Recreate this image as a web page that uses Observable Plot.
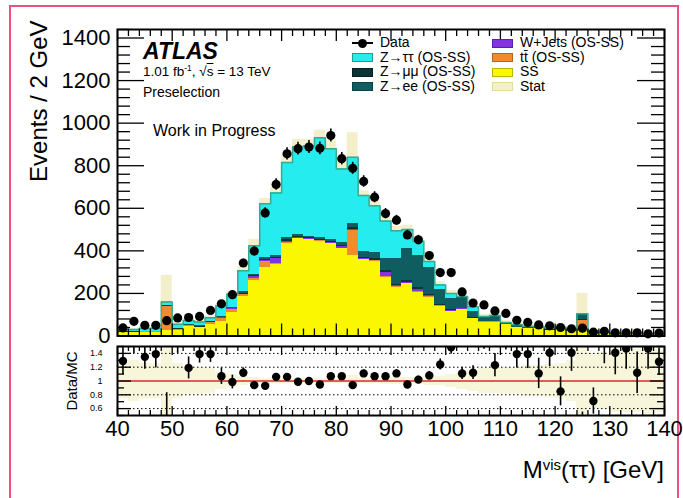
<!DOCTYPE html>
<html>
<head>
<meta charset="utf-8">
<script src="https://cdn.jsdelivr.net/npm/d3@7"></script>
<script src="https://cdn.jsdelivr.net/npm/@observablehq/plot@0.6"></script>
<style>
  body { margin: 0; background: #fff; }
  #wrap { position: relative; width: 683px; height: 498px; overflow: hidden; background: #fff;
          font-family: 'Liberation Sans', Arial, Helvetica, sans-serif; color: #000; }
  #border { position: absolute; left: 9px; top: 5px; width: 670px; height: 530px;
            border: 2px solid #f0507f; box-sizing: border-box; }
  .abs { position: absolute; white-space: nowrap; line-height: 1; }
  .plotbox { position: absolute; left: 0; width: 683px; }
  sup { font-size: 62%; vertical-align: 0; position: relative; top: -0.55em; line-height: 0; }
  .sw { position: absolute; width: 21px; height: 9px; box-sizing: border-box; }
</style>
</head>
<body>
<div id="wrap">
  <div id="border"></div>
  <div id="ratio" class="plotbox" style="top:340px"></div>
  <div id="main" class="plotbox" style="top:0"></div>
  <div class="abs" style="left:143px;top:40px;font-size:23px;font-weight:bold;font-style:italic;">ATLAS</div>
  <div class="abs" style="left:143px;top:65px;font-size:13.5px;">1.01 fb<sup>-1</sup>, √<span style="text-decoration:overline">s</span> = 13 TeV</div>
  <div class="abs" style="left:143px;top:85px;font-size:14px;">Preselection</div>
  <div class="abs" style="left:153px;top:123px;font-size:16px;">Work in Progress</div>
  <div id="legend"></div>
  <div class="abs" style="right:19px;top:458px;font-size:24px;">M<sup>vis</sup>(ττ) [GeV]</div>
</div>
<script>
// ---------------- data ----------------
const binLow = d3.range(40, 140, 2);   // 2 GeV bins from 40 to 140 GeV

const dataCounts = [38,69,50,50,72,85,87,92,120,151,194,343,399,578,712,856,880,888,882,942,
                    833,788,726,652,575,544,475,452,378,298,298,207,155,146,118,106,74,64,52,48,
                    40,34,37,18,22,15,15,15,10,14];
const dataErr    = [6,8,7,7,8,9,9,10,11,12,14,18,20,24,27,29,30,30,30,31,
                    29,28,27,26,24,23,22,21,19,17,17,14,12,12,11,10,9,8,7,7,
                    6,6,6,4,5,4,4,4,3,4];

const ssVals     = [18,18,18,18,25,28,46,38,52,70,112,185,262,320,335,435,457,452,446,434,
                    410,379,358,352,277,230,245,206,183,140,115,125,80,65,65,54,40,34,34,28,
                    30,22,22,18,12,10,9,11,7,9];
const ttbarVals  = [0,0,2,1,112,2,2,3,10,10,12,8,10,30,4,3,2,2,2,2,
                    2,118,2,2,2,2,2,2,2,1,1,1,1,1,1,0,0,0,0,0,
                    0,0,51,0,0,0,0,0,0,0];
const wjetsVals  = [0,0,0,0,0,0,0,0,2,5,4,4,6,4,24,8,4,2,2,3,
                    8,3,3,3,20,3,3,10,3,3,2,1,1,1,1,0,0,0,0,0,
                    0,0,0,0,0,0,0,0,0,0];
const zmumuVals  = [2,2,2,2,4,3,3,3,3,3,3,4,4,5,5,6,6,5,5,5,
                    5,8,8,8,8,8,10,8,7,5,5,4,3,3,3,1,1,1,1,1,
                    1,1,4,1,1,0,0,0,0,0];
const zeeVals    = [1,1,1,1,4,3,3,3,3,4,5,6,7,8,8,10,8,8,8,10,
                    12,22,25,25,55,120,150,150,125,70,52,50,28,20,22,6,8,6,5,4,
                    5,3,25,3,1,1,1,1,0,1];
const ztautauVals= [8,9,14,14,15,19,19,19,16,49,61,99,135,254,296,353,412,424,469,426,
                    348,310,264,222,178,132,90,69,30,21,25,5,25,2,4,3,5,5,5,3,
                    6,2,3,2,1,1,1,1,1,1];
const mcStat     = [5,5,6,6,125,8,8,8,10,12,14,18,30,25,25,35,35,30,35,40,
                    30,115,22,22,20,20,20,20,18,15,14,14,12,10,10,8,8,7,7,6,
                    6,6,95,5,4,4,4,4,4,4];

const ratioVals  = [1.29,1.8,1.35,1.39,0.45,1.6,1.19,1.39,1.39,1.07,0.985,1.12,0.94,0.93,1.06,1.06,0.99,1.0,0.95,1.07,
                    1.07,0.94,1.11,1.07,1.07,1.11,0.95,1.02,1.08,1.24,1.49,1.11,1.12,1.6,1.23,1.65,1.39,1.39,1.11,1.41,
                    0.85,1.41,0.35,0.71,1.6,1.41,1.47,1.12,1.47,1.28];
const ratioErr   = [0.2,0.4,0.18,0.2,0.38,0.2,0.16,0.13,0.12,0.12,0.1,0.07,0.05,0.04,0.04,0.04,0.035,0.035,0.035,0.035,
                    0.04,0.035,0.04,0.045,0.05,0.05,0.05,0.05,0.06,0.08,0.1,0.09,0.1,0.14,0.17,0.2,0.2,0.21,0.22,0.2,
                    0.21,0.27,0.2,0.19,0.35,0.32,0.3,0.3,0.3,0.2];
const ratioStat  = [0.25,0.3,0.25,0.25,0.9,0.25,0.2,0.2,0.18,0.12,0.1,0.07,0.05,0.04,0.04,0.035,0.035,0.035,0.035,0.035,
                    0.04,0.08,0.04,0.04,0.05,0.05,0.05,0.05,0.06,0.07,0.1,0.12,0.15,0.18,0.18,0.2,0.2,0.22,0.22,0.24,
                    0.26,0.3,0.9,0.4,0.42,0.45,0.45,0.45,0.5,0.45];

const yTicksMain  = [0,200,400,600,800,1000,1200,1400];
const xTicks      = [40,50,60,70,80,90,100,110,120,130,140];
const yTicksRatio = [0.6,0.8,1,1.2,1.4];

// ---------------- styles ----------------
const COLORS = {
  SS: "#fbf700", ttbar: "#f08c30", wjets: "#8234e0",
  zmumu: "#0b3535", zee: "#0f5d61", ztautau: "#25ecef",
  stat: "#f3efcb", ratioStat: "#f8f6da"
};
const font = "'Liberation Sans', Arial, Helvetica, sans-serif";

const procs = [
  {key: "SS",      label: "SS",             vals: ssVals},
  {key: "ttbar",   label: "tt\u0304 (OS-SS)",  vals: ttbarVals},
  {key: "wjets",   label: "W+Jets (OS-SS)", vals: wjetsVals},
  {key: "zmumu",   label: "Z→μμ (OS-SS)",   vals: zmumuVals},
  {key: "zee",     label: "Z→ee (OS-SS)",   vals: zeeVals},
  {key: "ztautau", label: "Z→ττ (OS-SS)",   vals: ztautauVals}
];

// table of stacked pieces
const stackRows = [];
const total = binLow.map((lo, i) => {
  let acc = 0;
  for (const p of procs) {
    stackRows.push({lo, hi: lo + 2, y1: acc, y2: acc + p.vals[i], color: COLORS[p.key]});
    acc += p.vals[i];
  }
  return acc;
});
const bins = binLow.map((lo, i) => ({
  lo, hi: lo + 2, mid: lo + 1,
  data: dataCounts[i], err: dataErr[i], total: total[i], stat: mcStat[i],
  ratio: ratioVals[i], rErr: ratioErr[i], rStat: ratioStat[i]
}));
const outline = bins.map(b => ({x: b.lo, y: b.total})).concat([{x: 140, y: total[total.length - 1]}]);

// ---------------- geometry ----------------
const W = 683;
const frameL = 117, frameR = 664;
const fw = frameR - frameL;
const mainTop = 29, mainBottom = 335.5, mainH = 352;
const fhMain = mainBottom - mainTop;
const rTop = 6, rH = 158, rBottomMargin = 83;
const fhRatio = rH - rTop - rBottomMargin;

const yMinorMain = d3.range(0, 1441, 40).filter(v => v % 200 !== 0);
const xMinor = d3.range(40, 141, 2).filter(v => v % 10 !== 0);
const yMinorRatio = [0.5,0.7,0.9,1.1,1.3,1.5];

function frameTicks(yMaj, yMin, fh, yLenMaj, yLenMin, xLenMaj, xLenMin, xLenMajTop, xLenMinTop) {
  return [
    Plot.tickY(yMaj, {y: d => d, insetRight: fw - yLenMaj, stroke: "black", strokeWidth: 1.3}),
    Plot.tickY(yMaj, {y: d => d, insetLeft: fw - yLenMaj, stroke: "black", strokeWidth: 1.3}),
    Plot.tickY(yMin, {y: d => d, insetRight: fw - yLenMin, stroke: "black", strokeWidth: 1.3}),
    Plot.tickY(yMin, {y: d => d, insetLeft: fw - yLenMin, stroke: "black", strokeWidth: 1.3}),
    Plot.tickX(xTicks, {x: d => d, insetTop: fh - xLenMaj, stroke: "black", strokeWidth: 1.3}),
    Plot.tickX(xMinor, {x: d => d, insetTop: fh - xLenMin, stroke: "black", strokeWidth: 1.3}),
    Plot.tickX(xTicks, {x: d => d, insetBottom: fh - xLenMajTop, stroke: "black", strokeWidth: 1.3}),
    Plot.tickX(xMinor, {x: d => d, insetBottom: fh - xLenMinTop, stroke: "black", strokeWidth: 1.3})
  ];
}

// ---------------- main panel ----------------
const main = Plot.plot({
  width: W, height: mainH,
  marginTop: mainTop, marginBottom: mainH - mainBottom, marginLeft: frameL, marginRight: W - frameR,
  x: {domain: [40, 140], axis: null},
  y: {domain: [0, 1440], axis: null},
  color: {type: "identity"},
  style: {background: "transparent", fontFamily: font, color: "black"},
  marks: [
    Plot.rect(bins, {x1: "lo", x2: "hi", y1: d => d.total - d.stat, y2: d => d.total + d.stat, fill: COLORS.stat}),
    Plot.rect(stackRows, {x1: "lo", x2: "hi", y1: "y1", y2: "y2", fill: "color", shapeRendering: "crispEdges"}),
    Plot.line(outline, {x: "x", y: "y", curve: "step-after", stroke: "#36a98e", strokeWidth: 1.5}),
    Plot.ruleX(bins, {x: "mid", y1: d => d.data - d.err, y2: d => d.data + d.err, stroke: "black", strokeWidth: 1.6}),
    Plot.dot(bins, {x: "mid", y: "data", r: 4.6, fill: "black", stroke: "none"}),
    ...frameTicks(yTicksMain, yMinorMain, fhMain, 27, 13, 12, 7, 12, 7),
    Plot.frame({stroke: "black", strokeWidth: 2}),
    Plot.axisY(yTicksMain, {anchor: "left", tickSize: 0, tickPadding: 7, fontSize: 22, tickFormat: d => String(d), label: null}),
    Plot.text(["Events / 2 GeV"], {text: d => d, frameAnchor: "top-left", dx: -88, dy: -9, rotate: -90,
                                   textAnchor: "end", fontSize: 24})
  ]
});
document.getElementById("main").appendChild(main);

// ---------------- ratio panel ----------------
const ratio = Plot.plot({
  width: W, height: rH,
  marginTop: rTop, marginBottom: rBottomMargin, marginLeft: frameL, marginRight: W - frameR,
  x: {domain: [40, 140], axis: null},
  y: {domain: [0.5, 1.5], axis: null},
  style: {background: "transparent", fontFamily: font, color: "black"},
  marks: [
    Plot.rect(bins, {x1: "lo", x2: "hi", y1: d => 1 - d.rStat, y2: d => 1 + d.rStat,
                     fill: COLORS.ratioStat, clip: true, shapeRendering: "crispEdges"}),
    Plot.ruleY([0.6, 0.8, 1.2, 1.4], {stroke: "black", strokeWidth: 1, strokeDasharray: "1.5,2.5"}),
    Plot.ruleY([1], {stroke: "#e3262b", strokeWidth: 1.6}),
    Plot.ruleX(bins, {x: "mid", y1: d => d.ratio - d.rErr, y2: d => d.ratio + d.rErr, stroke: "black",
                      strokeWidth: 1.6, clip: true}),
    Plot.dot(bins, {x: "mid", y: "ratio", r: 4.2, fill: "black", stroke: "none", clip: true}),
    ...frameTicks(yTicksRatio, yMinorRatio, fhRatio, 14, 7, 9, 5, 9, 5),
    Plot.frame({stroke: "black", strokeWidth: 2}),
    Plot.axisY(yTicksRatio, {anchor: "left", tickSize: 0, tickPadding: 15, fontSize: 9,
                             tickFormat: d => d === 1 ? "1" : d.toFixed(1), label: null}),
    Plot.axisX(xTicks, {anchor: "bottom", tickSize: 0, tickPadding: 5, fontSize: 22, tickFormat: d => String(d), label: null}),
    Plot.text(["Data/MC"], {text: d => d, frameAnchor: "left", dx: -45, rotate: -90, textAnchor: "middle", fontSize: 15})
  ]
});
document.getElementById("ratio").appendChild(ratio);

// ---------------- legend ----------------
const legendLeft  = [{label: "Data", kind: "data"}, {key: "ztautau"}, {key: "zmumu"}, {key: "zee"}];
const legendRight = [{key: "wjets"}, {key: "ttbar"}, {key: "SS"}, {label: "Stat", kind: "stat"}];
const legendBorder = {ztautau: "#2a9a8a", zmumu: "#061f1f", zee: "#0a4244", wjets: "#5a20a8",
                      ttbar: "#b86420", SS: "#b8b400"};
const leg = document.getElementById("legend");
function addLegendCol(items, sx, tx) {
  items.forEach((it, i) => {
    const cy = 43 + i * 14.6;
    const p = procs.find(q => q.key === it.key);
    const label = it.label || p.label;
    if (it.kind === "data") {
      const ln = document.createElement("div");
      ln.style.cssText = `position:absolute;left:${sx}px;top:${cy - 1}px;width:21px;height:2px;background:#000;`;
      const dt = document.createElement("div");
      dt.style.cssText = `position:absolute;left:${sx + 6}px;top:${cy - 4.5}px;width:9px;height:9px;border-radius:50%;background:#000;`;
      leg.appendChild(ln); leg.appendChild(dt);
    } else {
      const sw = document.createElement("div");
      sw.className = "sw";
      const fill = it.kind === "stat" ? COLORS.stat : COLORS[it.key];
      const bd = it.kind === "stat" ? "#e4dc9c" : legendBorder[it.key];
      sw.style.cssText += `left:${sx}px;top:${cy - 4.5}px;background:${fill};border:1px solid ${bd};`;
      leg.appendChild(sw);
    }
    const t = document.createElement("div");
    t.className = "abs";
    t.style.cssText += `left:${tx}px;top:${cy - 8}px;font-size:14px;`;
    t.textContent = label;
    leg.appendChild(t);
  });
}
addLegendCol(legendLeft, 352, 380);
addLegendCol(legendRight, 492, 520);
</script>
</body>
</html>
